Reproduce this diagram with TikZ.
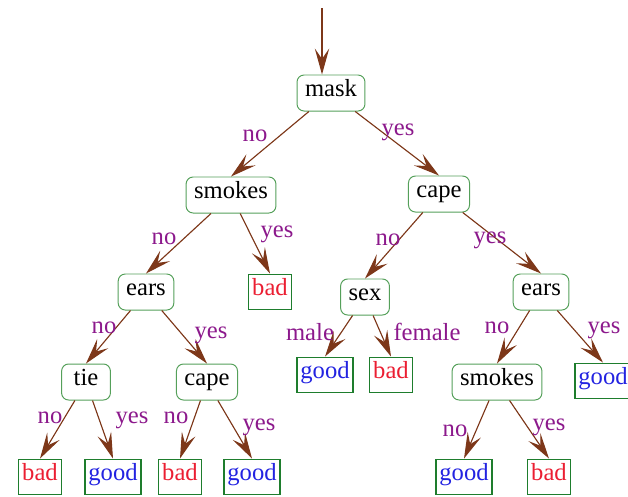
\documentclass[tikz,border=0pt]{standalone}
\usepackage{fontspec}
\setmainfont{Liberation Serif}
\newfontfamily\treefont{Liberation Serif}
\usetikzlibrary{arrows.meta,positioning}

\definecolor{edgebrown}{RGB}{125,55,25}
\definecolor{lblpurple}{RGB}{140,25,140}
\definecolor{innergreen}{RGB}{85,160,90}
\definecolor{leafgreen}{RGB}{30,125,45}
\definecolor{badred}{RGB}{235,30,50}
\definecolor{goodblue}{RGB}{35,35,225}

\begin{document}
\begin{tikzpicture}[
    x=0.025cm, y=-0.025cm,
    every node/.style={font=\treefont\fontsize{17.5}{20}\selectfont},
    inner/.style={rectangle, draw=innergreen, line width=0.7pt, rounded corners=5pt, minimum width=1.22cm, minimum height=0.9cm, inner xsep=0.2cm, text height=1.6ex, text depth=0.4ex},
    leaf/.style={rectangle, draw=leafgreen, line width=1.2pt, minimum height=0.88cm, inner xsep=0.09cm, text height=1.6ex, text depth=0.4ex},
    bad/.style={leaf, text=badred},
    good/.style={leaf, text=goodblue},
    lbl/.style={text=lblpurple, anchor=base, inner sep=0pt},
    arrow/.style={-{Stealth[length=6.5mm, width=3.6mm, inset=2.6mm]}, draw=edgebrown, fill=edgebrown, line width=0.8pt}
]
    \clip (0,0) rectangle (628,496);

    % inner tests
    \node[inner] (mask) at (331,93) {mask};
    \node[inner] (smokesA) at (231,195) {smokes};
    \node[inner] (capeA) at (439,194) {cape};
    \node[inner] (earsA) at (146,292) {ears};
    \node[inner] (sex) at (365,297) {sex};
    \node[inner] (earsB) at (541,292) {ears};
    \node[inner] (tie) at (86,382) {tie};
    \node[inner] (capeB) at (207,382) {cape};
    \node[inner] (smokesB) at (497,382) {smokes};

    % leaves
    \node[bad] (badA) at (270,292) {bad};
    \node[good] (goodA) at (325,375) {good};
    \node[bad] (badB) at (391,375) {bad};
    \node[good] (goodB) at (603,381) {good};
    \node[bad] (badC) at (40,477) {bad};
    \node[good] (goodC) at (113,477) {good};
    \node[bad] (badD) at (180,477) {bad};
    \node[good] (goodD) at (252,477) {good};
    \node[good] (goodE) at (464,477) {good};
    \node[bad] (badE) at (549,477) {bad};

    % edges
    \coordinate (entry) at (322,8);
    \draw[arrow] (entry) -- (entry |- mask.north);
    \draw[arrow] (mask) -- (smokesA.north);
    \draw[arrow] (mask) -- (capeA.north);
    \draw[arrow] (smokesA) -- (earsA.north);
    \draw[arrow] (smokesA) -- (badA.north);
    \draw[arrow] (capeA) -- (sex.north);
    \draw[arrow] (capeA) -- (earsB.north);
    \draw[arrow] (earsA) -- (tie.north);
    \draw[arrow] (earsA) -- (capeB.north);
    \draw[arrow] (sex) -- (goodA.north);
    \draw[arrow] (sex) -- (badB.north);
    \draw[arrow] (earsB) -- (smokesB.north);
    \draw[arrow] (earsB) -- (goodB.north);
    \draw[arrow] (tie) -- (badC.north);
    \draw[arrow] (tie) -- (goodC.north);
    \draw[arrow] (capeB) -- (badD.north);
    \draw[arrow] (capeB) -- (goodD.north);
    \draw[arrow] (smokesB) -- (goodE.north);
    \draw[arrow] (smokesB) -- (badE.north);

    % edge labels
    \node[lbl] (lmaskno) at (255,141) {no};
    \node[lbl] (lmaskyes) at (398,135) {yes};
    \node[lbl] (lsmokesAno) at (164,244) {no};
    \node[lbl] (lsmokesAyes) at (277,237) {yes};
    \node[lbl] (lcapeAno) at (388,245) {no};
    \node[lbl] (lcapeAyes) at (490,243) {yes};
    \node[lbl] (learsAno) at (104,333) {no};
    \node[lbl] (learsAyes) at (211,338) {yes};
    \node[lbl] (lsexmale) at (310,340) {male};
    \node[lbl] (lsexfemale) at (427,340) {female};
    \node[lbl] (learsBno) at (497,333) {no};
    \node[lbl] (learsByes) at (604,333) {yes};
    \node[lbl] (ltieno) at (50,423) {no};
    \node[lbl] (ltieyes) at (132,423) {yes};
    \node[lbl] (lcapeBno) at (176,423) {no};
    \node[lbl] (lcapeByes) at (259,430) {yes};
    \node[lbl] (lsmokesBno) at (455,436) {no};
    \node[lbl] (lsmokesByes) at (549,430) {yes};
\end{tikzpicture}
\end{document}
